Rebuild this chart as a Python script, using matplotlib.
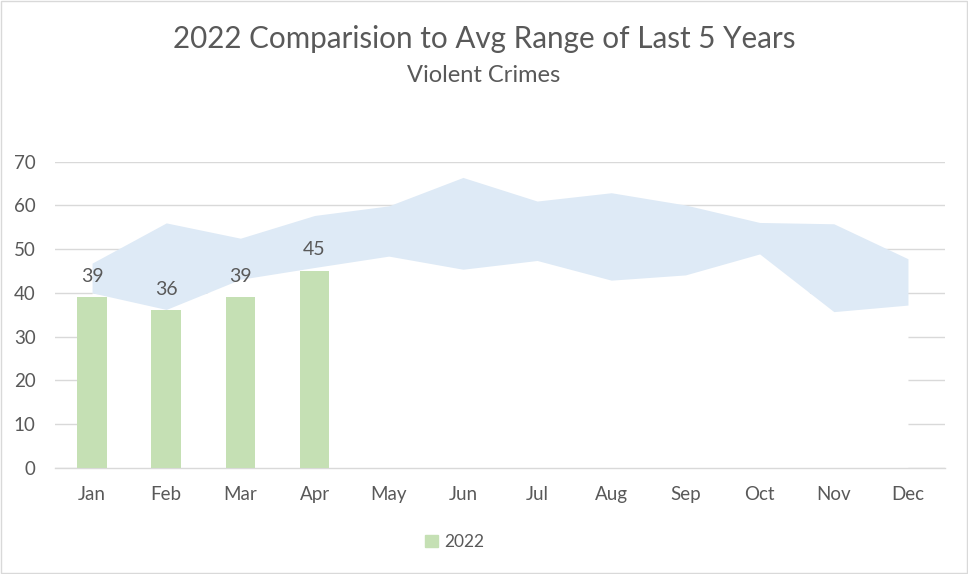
import numpy as np
import matplotlib.pyplot as plt
from matplotlib.patches import Patch, Rectangle

plt.rcParams['font.family'] = ['Lato', 'DejaVu Sans']

# ------------------------------------------------------------------
# DATA
# ------------------------------------------------------------------
months = ["Jan", "Feb", "Mar", "Apr", "May", "Jun",
          "Jul", "Aug", "Sep", "Oct", "Nov", "Dec"]

# range of last 5 years (low / high per month)
range_low  = [40.0, 36.2, 43.1, 45.8, 48.4, 45.4,
              47.4, 42.9, 44.1, 48.9, 35.7, 37.2]
range_high = [46.8, 56.0, 52.5, 57.7, 59.9, 66.4,
              61.0, 62.9, 60.1, 56.1, 55.8, 47.8]

# 2022 so far
crimes_2022 = [39, 36, 39, 45]

y_ticks = [0, 10, 20, 30, 40, 50, 60, 70]

TEXT = '#595959'
GRID = '#D9D9D9'
BAND = '#DEEAF6'
BAR  = '#C5E0B4'

# ------------------------------------------------------------------
# PLOT
# ------------------------------------------------------------------
fig = plt.figure(figsize=(9.68, 5.74), dpi=100)
ax = fig.add_axes([0.0568, 0.1852, 0.9195, 0.5331])

x = np.arange(len(months))

# white area under the band hides the gridlines (like Excel stacked area)
ax.fill_between(x, 0, range_low, color='white', linewidth=0, zorder=1)
ax.fill_between(x, range_low, range_high, color=BAND, linewidth=0, zorder=1)

xb = np.arange(len(crimes_2022))
ax.bar(xb, crimes_2022, width=0.4, color=BAR, zorder=3)
for xi, v in zip(xb, crimes_2022):
    ax.annotate(f"{v}", (xi, v), xytext=(0, 9), textcoords='offset points',
                ha='center', va='bottom', fontsize=14, color=TEXT, zorder=4)

ax.set_xlim(-0.5, len(months) - 0.5)
ax.set_ylim(0, 70)
ax.set_yticks(y_ticks)
ax.set_xticks(x)
ax.set_xticklabels(months)
ax.tick_params(axis='both', length=0, labelsize=13.5, colors=TEXT)
ax.tick_params(axis='x', pad=13)
ax.tick_params(axis='y', pad=14)

ax.set_axisbelow(True)
ax.grid(True, axis='y', color=GRID, linewidth=1.0, zorder=0)
for side in ['top', 'left', 'right']:
    ax.spines[side].set_visible(False)
ax.spines['bottom'].set_color(GRID)
ax.spines['bottom'].set_linewidth(1.0)
ax.spines['bottom'].set_zorder(2.5)

# titles
fig.text(0.5, 1 - 39 / 574, "2022 Comparision to Avg Range of Last 5 Years",
         ha='center', va='center', fontsize=21.3, color=TEXT)
fig.text(0.5, 1 - 76 / 574, "Violent Crimes",
         ha='center', va='center', fontsize=17, color=TEXT)

# legend
fig.legend(handles=[Patch(color=BAR, label="2022")],
           loc='center', bbox_to_anchor=(455 / 968, 1 - 542 / 574),
           frameon=False, fontsize=12.5, labelcolor=TEXT,
           handlelength=0.75, handleheight=0.75, handletextpad=0.35)

# chart border
fig.patches.append(Rectangle((0.001, 0.001), 0.998, 0.997,
                             transform=fig.transFigure, fill=False,
                             edgecolor=GRID, linewidth=1.0))

plt.savefig("out.png", dpi=100)
plt.close()
